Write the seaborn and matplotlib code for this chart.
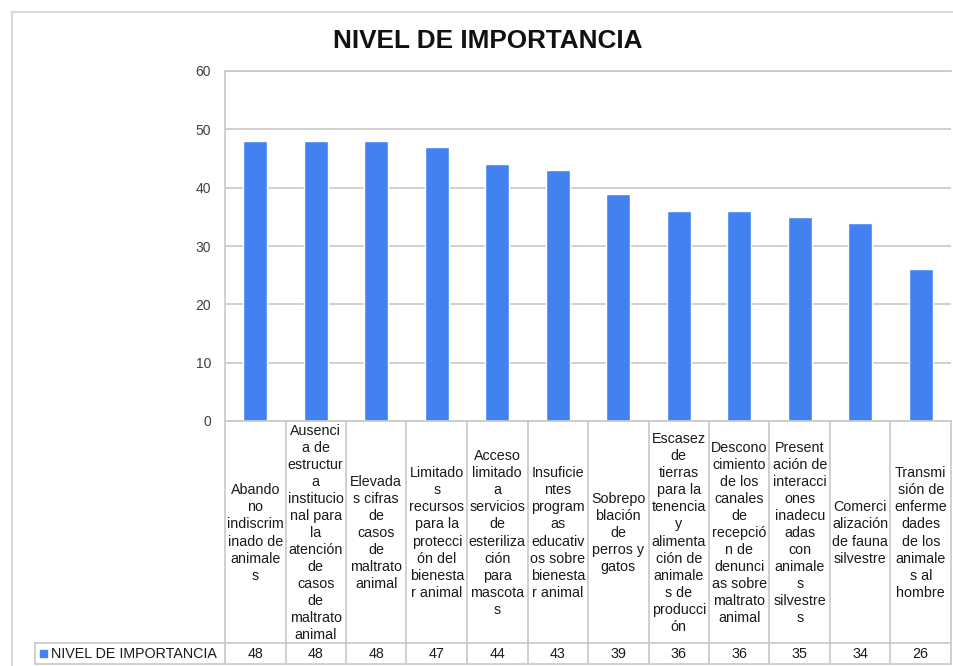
import seaborn as sns
import pandas as pd
import matplotlib.pyplot as plt
from matplotlib.lines import Line2D
from matplotlib.patches import Rectangle

# data
categorias = [
    "Abando\nno\nindiscrim\ninado de\nanimale\ns",
    "Ausenci\na de\nestructur\na\ninstitucio\nnal para\nla\natención\nde\ncasos\nde\nmaltrato\nanimal",
    "Elevada\ns cifras\nde\ncasos\nde\nmaltrato\nanimal",
    "Limitado\ns\nrecursos\npara la\nprotecci\nón del\nbienesta\nr animal",
    "Acceso\nlimitado\na\nservicios\nde\nesteriliza\nción\npara\nmascota\ns",
    "Insuficie\nntes\nprogram\nas\neducativ\nos sobre\nbienesta\nr animal",
    "Sobrepo\nblación\nde\nperros y\ngatos",
    "Escasez\nde\ntierras\npara la\ntenencia\ny\nalimenta\nción de\nanimale\ns de\nproducci\nón",
    "Descono\ncimiento\nde los\ncanales\nde\nrecepció\nn de\ndenunci\nas sobre\nmaltrato\nanimal",
    "Present\nación de\ninteracci\nones\ninadecu\nadas\ncon\nanimale\ns\nsilvestre\ns",
    "Comerci\nalización\nde fauna\nsilvestre",
    "Transmi\nsión de\nenferme\ndades\nde los\nanimale\ns al\nhombre",
]
valores = [48, 48, 48, 47, 44, 43, 39, 36, 36, 35, 34, 26]
serie = "NIVEL DE IMPORTANCIA"
color_barra = "#4282f0"

df = pd.DataFrame({"cat": range(len(valores)), "valor": valores})

W, H = 954, 666
fig = plt.figure(figsize=(W / 100, H / 100), dpi=100)
sns.set_style("white")
plt.rcParams["font.family"] = ["Liberation Sans", "DejaVu Sans"]

# plot area in pixels
x0, x1, ytop, ybot = 225, 951, 71, 421
ax = fig.add_axes([x0 / W, 1 - ybot / H, (x1 - x0) / W, (ybot - ytop) / H])
sns.barplot(data=df, x="cat", y="valor", color=color_barra, width=0.4,
            saturation=1, ax=ax)
ax.set_xlim(-0.5, len(valores) - 0.5)
ax.set_ylim(0, 60)
ax.set_yticks(range(0, 61, 10))
ax.yaxis.grid(True, color="#c8c8c8", lw=1.2)
ax.set_axisbelow(True)
ax.set_xticks([])
ax.set_xlabel("")
ax.set_ylabel("")
ax.tick_params(axis="y", length=0, pad=10, labelsize=10, labelcolor="#404040")
for s in ["right", "bottom"]:
    ax.spines[s].set_visible(False)
ax.spines["left"].set_color("#c8c8c8")
ax.spines["top"].set_color("#c8c8c8")
ax.spines["left"].set_linewidth(1.2)
ax.spines["top"].set_linewidth(1.2)

# helper: pixel coords -> figure fraction
def fx(px):
    return px / W

def fy(py):
    return 1 - py / H

lc = "#c8c8c8"
# outer chart border
fig.add_artist(Line2D([fx(12), fx(954)], [fy(12), fy(12)], color="#d9d9d9", lw=1.5))
fig.add_artist(Line2D([fx(12), fx(12)], [fy(12), fy(666)], color="#d9d9d9", lw=1.5))

fig.text(fx(488), fy(41), serie, ha="center", va="center",
         fontsize=18.8, fontweight="bold", color="#111111")

# data table under the axis
row_top, row_mid, row_bot = 421, 643, 664
colw = (x1 - x0) / len(valores)
fig.add_artist(Line2D([fx(x0), fx(x1)], [fy(row_top), fy(row_top)], color=lc, lw=1.2))
fig.add_artist(Line2D([fx(35), fx(x1)], [fy(row_mid), fy(row_mid)], color=lc, lw=1.2))
fig.add_artist(Line2D([fx(35), fx(x1)], [fy(row_bot), fy(row_bot)], color=lc, lw=1.2))
fig.add_artist(Line2D([fx(35), fx(35)], [fy(row_mid), fy(row_bot)], color=lc, lw=1.2))
for i in range(len(valores) + 1):
    xx = x0 + i * colw
    fig.add_artist(Line2D([fx(xx), fx(xx)], [fy(row_top), fy(row_bot)], color=lc, lw=1.2))

for i, (c, v) in enumerate(zip(categorias, valores)):
    cx = x0 + (i + 0.5) * colw
    fig.text(fx(cx), fy((row_top + row_mid) / 2 + 1), c, ha="center", va="center",
             fontsize=10.3, linespacing=1.28, color="#1a1a1a")
    fig.text(fx(cx), fy((row_mid + row_bot) / 2 + 1), str(v), ha="center",
             va="center", fontsize=10.3, color="#1a1a1a")

# legend key in the table header cell
fig.add_artist(Rectangle((fx(40), fy(657)), 7 / W, 7 / H, color=color_barra))
fig.text(fx(51), fy((row_mid + row_bot) / 2 + 1), serie, ha="left", va="center",
         fontsize=10.3, color="#1a1a1a")

fig.savefig("out.png", dpi=100)
